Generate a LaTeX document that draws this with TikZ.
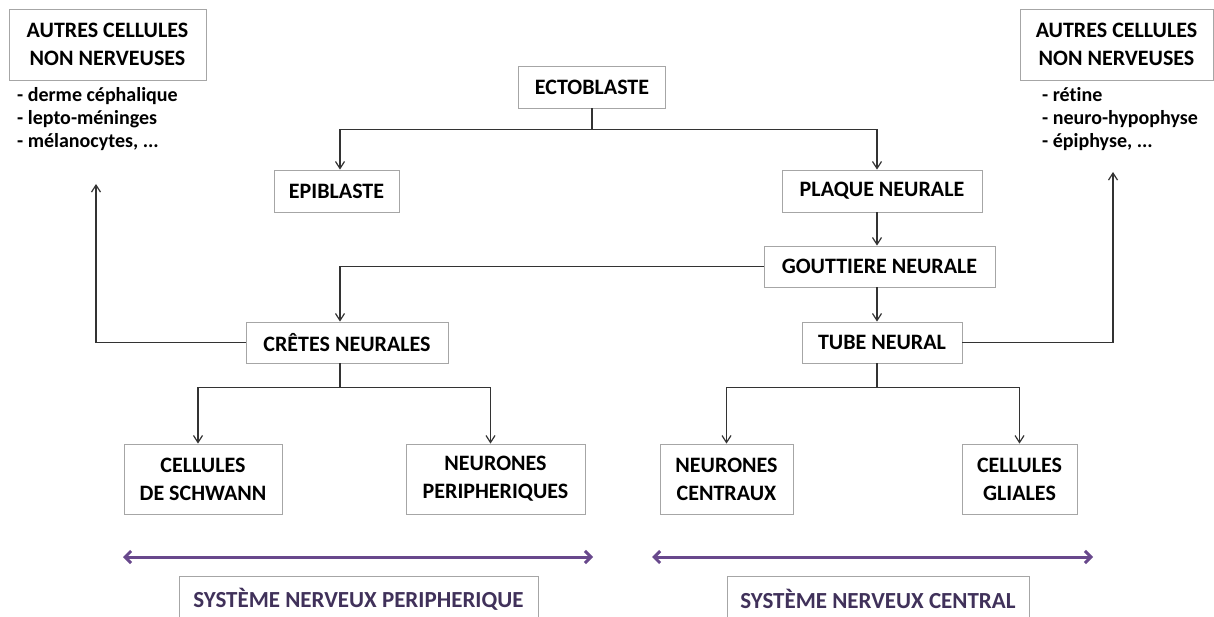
\documentclass[tikz,border=0pt]{standalone}
\usepackage{fontspec}
\setmainfont{Carlito}[Ligatures=NoCommon]
\usetikzlibrary{arrows.meta}
\definecolor{violetfleche}{RGB}{104,72,140}
\definecolor{violettexte}{RGB}{64,49,90}

\begin{document}
\begin{tikzpicture}[
		x=1pt, y=-1pt,
		cell/.style={draw=gray!70, line width=0.8pt, align=center, inner sep=0pt,
			font=\bfseries\fontsize{22}{28}\selectfont},
		liste/.style={anchor=north west, align=left, inner sep=0pt,
			font=\bfseries\fontsize{20}{23}\selectfont},
		lien/.style={draw=black!80, line width=1.2pt, -{Straight Barb[length=7pt,width=9pt]}},
		systeme/.style={draw=violetfleche, line width=3pt,
			{Straight Barb[length=6pt,width=12pt]}-{Straight Barb[length=6pt,width=12pt]}},
		sysbox/.style={cell, text=violettexte, font=\bfseries\fontsize{23}{28}\selectfont}
	]
		\useasboundingbox (0,0) rectangle (1214,617);

		\node[cell, minimum width=197pt, minimum height=71pt] (autresG) at (107.5,44.5) {AUTRES CELLULES\\NON NERVEUSES};
		\node[liste] (listeG) at (17,87) {- derme céphalique\\- lepto-méninges\\- mélanocytes, ...};
		\node[cell, minimum width=193pt, minimum height=71pt] (autresD) at (1116.5,44.5) {AUTRES CELLULES\\NON NERVEUSES};
		\node[liste] (listeD) at (1042,87) {- rétine\\- neuro-hypophyse\\- épiphyse, ...};

		\node[cell, minimum width=147pt, minimum height=42pt] (ecto) at (592,87) {ECTOBLASTE};
		\node[cell, minimum width=125pt, minimum height=42pt] (epi) at (336.5,191) {EPIBLASTE};
		\node[cell, minimum width=200pt, minimum height=42pt] (plaque) at (882,191) {PLAQUE NEURALE};
		\node[cell, minimum width=231pt, minimum height=41pt] (gout) at (879.5,266.5) {GOUTTIERE NEURALE};
		\node[cell, minimum width=202pt, minimum height=41pt] (cretes) at (347,342.5) {CRÊTES NEURALES};
		\node[cell, minimum width=160pt, minimum height=41pt] (tube) at (882,342.5) {TUBE NEURAL};

		\node[cell, minimum width=158pt, minimum height=70pt] (schwann) at (203,479) {CELLULES\\DE SCHWANN};
		\node[cell, minimum width=179pt, minimum height=70pt] (periph) at (495.5,479) {NEURONES\\PERIPHERIQUES};
		\node[cell, minimum width=133pt, minimum height=70pt] (centraux) at (726.5,479) {NEURONES\\CENTRAUX};
		\node[cell, minimum width=115pt, minimum height=70pt] (gliales) at (1019.5,479) {CELLULES\\GLIALES};

		\node[sysbox, minimum width=359pt, minimum height=46pt] (snp) at (358.5,599) {SYSTÈME NERVEUX PERIPHERIQUE};
		\node[sysbox, minimum width=302pt, minimum height=46pt] (snc) at (878,599) {SYSTÈME NERVEUX CENTRAL};

		\coordinate (axeG) at (340,0);
		\coordinate (axeD) at (877,0);
		\coordinate (hautG) at (96,184);
		\coordinate (hautD) at (1113,172);

		\draw[lien] (ecto.south) -- ++(0,21) -| (axeG |- epi.north);
		\draw[lien] (ecto.south) -- ++(0,21) -| (axeD |- plaque.north);
		\draw[lien] (axeD |- plaque.south) -- (axeD |- gout.north);
		\draw[lien] (axeD |- gout.south) -- (axeD |- tube.north);
		\draw[lien] (gout.west) -| (axeG |- cretes.north);
		\draw[lien] (cretes.west) -| (hautG);
		\draw[lien] (tube.east) -| (hautD);
		\draw[lien] (axeG |- cretes.south) -- ++(0,24) -| ([xshift=-5pt]schwann.north);
		\draw[lien] (axeG |- cretes.south) -- ++(0,24) -| ([xshift=-5pt]periph.north);
		\draw[lien] (axeD |- tube.south) -- ++(0,24) -| (centraux.north);
		\draw[lien] (axeD |- tube.south) -- ++(0,24) -| (gliales.north);

		\coordinate (snpG) at (123,557);
		\coordinate (snpD) at (593,557);
		\coordinate (sncG) at (652,557);
		\coordinate (sncD) at (1093,557);
		\draw[systeme] (snpG) -- (snpD);
		\draw[systeme] (sncG) -- (sncD);
	\end{tikzpicture}
\end{document}
